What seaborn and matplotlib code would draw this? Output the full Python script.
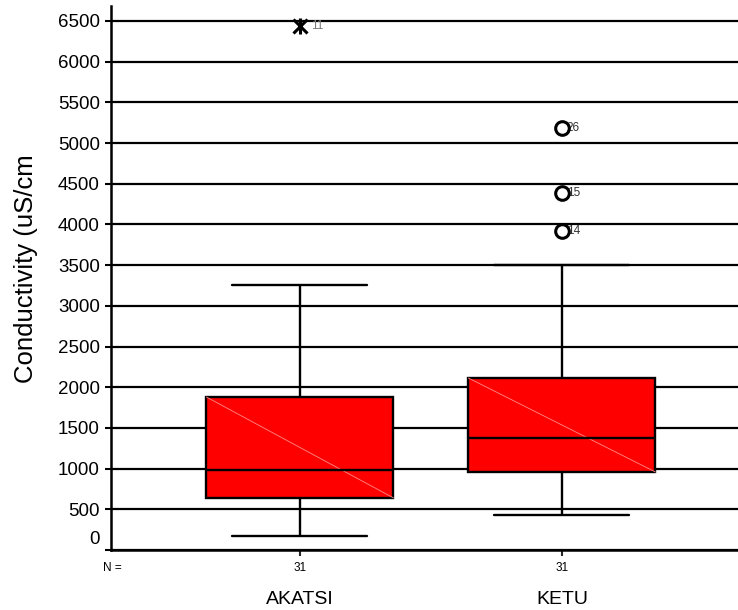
import numpy as np
import pandas as pd
import matplotlib
matplotlib.use("Agg")
import matplotlib.pyplot as plt
import matplotlib.transforms as mtransforms
import seaborn as sns

# ---- data ----
categories = ["AKATSI", "KETU"]
counts = [31, 31]
# five-number summaries: lower whisker, Q1, median, Q3, upper whisker
akatsi_summary = [172, 640, 980, 1880, 3255]
ketu_summary = [430, 958, 1376, 2113, 3500]
extreme_sites = ["AKATSI"]
extreme_values = [6437]
extreme_labels = ["11"]
outlier_sites = ["KETU", "KETU", "KETU"]
outlier_values = [5184, 4386, 3919]
outlier_labels = ["26", "15", "14"]
yticks = list(range(0, 6501, 500))

sns.set_style("white")
plt.rcParams['font.family'] = ['Liberation Sans', 'DejaVu Sans']
plt.rcParams['text.color'] = 'black'
plt.rcParams['axes.labelcolor'] = 'black'

df = pd.DataFrame({
    "site": [categories[0]] * len(akatsi_summary) + [categories[1]] * len(ketu_summary),
    "value": akatsi_summary + ketu_summary,
})

W, H = 738, 610
fig = plt.figure(figsize=(W / 100, H / 100), dpi=100)
ax = fig.add_axes([111 / W, 60 / H, 627 / W, 544 / H])

sns.boxplot(data=df, x="site", y="value", order=categories, color="#ff0000",
            saturation=1, width=0.714, whis=(0, 100), linecolor="black",
            linewidth=1.7, showfliers=False, capwidths=0.515, ax=ax)

# faint diagonal across each box (rendering artifact of the original)
for patch in ax.patches:
    v = patch.get_path().vertices
    x0, x1 = v[:, 0].min(), v[:, 0].max()
    y0, y1 = v[:, 1].min(), v[:, 1].max()
    ax.plot([x0, x1], [y1, y0], color="#ff8a8a", lw=0.6, zorder=2.05)

# extremes (asterisk) and outliers (circle)
for s, val, lab in zip(extreme_sites, extreme_values, extreme_labels):
    xi = categories.index(s)
    ax.plot([xi], [val], marker="x", ms=9.5, mew=2.2, color="black", zorder=4)
    ax.plot([xi], [val], marker="|", ms=11, mew=2.2, color="black", zorder=4)
    ax.annotate(lab, (xi, val), xytext=(8, 0), textcoords="offset points",
                va="center", ha="left", fontsize=8.5, color="#777777")
for s, val, lab in zip(outlier_sites, outlier_values, outlier_labels):
    xi = categories.index(s)
    ax.plot([xi], [val], marker="o", ms=9.8, mew=2.2, mfc="none", mec="black", zorder=4)
    ax.annotate(lab, (xi, val), xytext=(3.6, 0), textcoords="offset points",
                va="center", ha="left", fontsize=8.5, color="#333333")

ax.set_xlim(-0.721, 1.672)
ax.set_ylim(0, 6684)
ax.set_yticks(yticks)
ax.set_yticklabels([str(t) for t in yticks])
ax.yaxis.grid(True, color="black", lw=1.6)
ax.xaxis.grid(False)
ax.set_axisbelow(True)

for side in ["top", "right"]:
    ax.spines[side].set_visible(False)
for side in ["left", "bottom"]:
    ax.spines[side].set_visible(True)
    ax.spines[side].set_color("black")
    ax.spines[side].set_linewidth(1.8)

ax.tick_params(axis="y", left=True, length=4, width=1.5, pad=4, labelsize=13.5, colors="black")
ax.tick_params(axis="x", bottom=True, length=4, width=1.5, labelbottom=False)

# shift the "0" label upward as in the original
lab0 = ax.get_yticklabels()[0]
lab0.set_transform(lab0.get_transform() + mtransforms.ScaledTranslation(0, 0.12, fig.dpi_scale_trans))

ax.set_xlabel("")
ax.set_ylabel("Conductivity (uS/cm", fontsize=18.5, color="black")
ax.yaxis.set_label_coords((38 - 111) / 627, (550 - 268.5) / 544)

trans = mtransforms.blended_transform_factory(ax.transData, ax.transAxes)
for i, (c, n) in enumerate(zip(categories, counts)):
    ax.text(i, (550 - 568) / 544, str(n), transform=trans, ha="center", va="center",
            fontsize=8.5, color="black")
    ax.text(i, (550 - 600) / 544, c, transform=trans, ha="center", va="center",
            fontsize=14, color="black")
ax.text((112 - 111) / 627, (550 - 568) / 544, "N =", transform=ax.transAxes,
        ha="center", va="center", fontsize=8.5, color="black")

fig.savefig("out.png", dpi=100)
